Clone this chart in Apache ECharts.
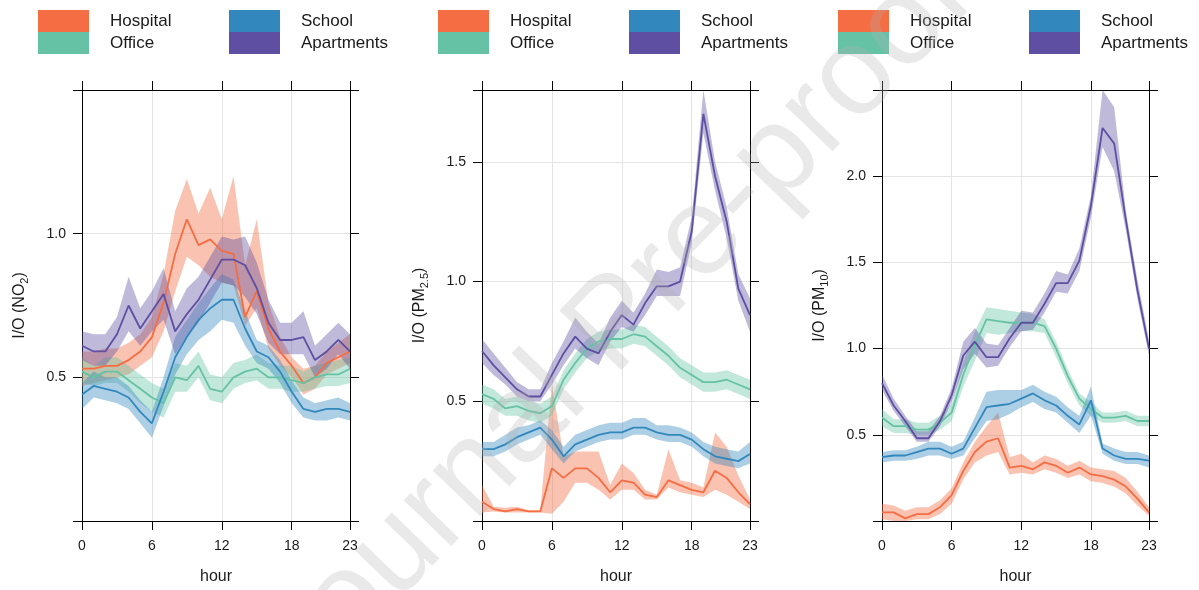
<!DOCTYPE html>
<html>
<head>
<meta charset="utf-8">
<script src="https://cdn.jsdelivr.net/npm/echarts@6/dist/echarts.min.js"></script>
<style>
  html, body { margin: 0; padding: 0; background: #fff; }
  #chart { width: 1199px; height: 590px; }
</style>
</head>
<body>
<div id="chart"></div>
<script>
// ---------- data ----------
const hours = [0,1,2,3,4,5,6,7,8,9,10,11,12,13,14,15,16,17,18,19,20,21,22,23];
const xTicks = [0, 6, 12, 18, 23];
const groups = ['Hospital', 'Office', 'School', 'Apartments'];
const panelMax = [1.5, 1.8, 2.5];

// Panel 1: I/O (NO2)
const no2Hospital   = [0.53,0.53,0.54,0.54,0.56,0.59,0.64,0.76,0.93,1.05,0.96,0.98,0.94,0.93,0.71,0.80,0.67,0.59,0.54,0.48,0.50,0.55,0.57,0.59];
const no2HospitalLo = [0.47,0.48,0.49,0.50,0.51,0.54,0.57,0.66,0.80,0.92,0.89,0.85,0.83,0.82,0.68,0.74,0.60,0.54,0.50,0.44,0.46,0.51,0.53,0.55];
const no2HospitalHi = [0.59,0.59,0.60,0.60,0.62,0.65,0.71,0.86,1.08,1.19,1.07,1.16,1.05,1.20,0.89,1.05,0.76,0.64,0.57,0.53,0.54,0.59,0.62,0.65];
const no2Office     = [0.52,0.50,0.52,0.52,0.49,0.46,0.43,0.41,0.50,0.49,0.54,0.46,0.45,0.50,0.52,0.53,0.50,0.50,0.49,0.48,0.50,0.51,0.51,0.53];
const no2OfficeLo   = [0.48,0.47,0.48,0.48,0.45,0.41,0.38,0.36,0.45,0.45,0.50,0.42,0.41,0.46,0.48,0.49,0.46,0.46,0.45,0.45,0.46,0.47,0.47,0.48];
const no2OfficeHi   = [0.57,0.54,0.57,0.57,0.54,0.51,0.48,0.46,0.55,0.54,0.59,0.51,0.50,0.55,0.56,0.58,0.55,0.54,0.54,0.52,0.54,0.55,0.56,0.57];
const no2School     = [0.44,0.47,0.46,0.45,0.43,0.38,0.34,0.45,0.57,0.64,0.70,0.74,0.77,0.77,0.67,0.59,0.57,0.52,0.45,0.39,0.38,0.39,0.39,0.38];
const no2SchoolLo   = [0.39,0.43,0.42,0.41,0.39,0.34,0.29,0.40,0.51,0.58,0.63,0.66,0.70,0.69,0.61,0.55,0.53,0.48,0.41,0.36,0.35,0.35,0.36,0.35];
const no2SchoolHi   = [0.48,0.52,0.50,0.50,0.47,0.42,0.38,0.50,0.64,0.70,0.76,0.81,0.86,0.84,0.73,0.63,0.61,0.56,0.49,0.43,0.41,0.42,0.43,0.41];
const no2Apt        = [0.61,0.59,0.59,0.65,0.75,0.67,0.73,0.79,0.66,0.72,0.77,0.84,0.91,0.91,0.89,0.81,0.69,0.63,0.63,0.64,0.56,0.59,0.63,0.59];
const no2AptLo      = [0.56,0.54,0.54,0.59,0.66,0.61,0.66,0.70,0.58,0.64,0.69,0.76,0.83,0.82,0.78,0.72,0.62,0.58,0.58,0.58,0.50,0.53,0.58,0.53];
const no2AptHi      = [0.66,0.65,0.65,0.71,0.85,0.74,0.80,0.88,0.73,0.81,0.85,0.92,0.99,0.98,0.99,0.90,0.77,0.69,0.69,0.73,0.61,0.65,0.69,0.65];

// Panel 2: I/O (PM2.5)
const pm25Hospital   = [0.08,0.05,0.04,0.05,0.04,0.04,0.22,0.18,0.22,0.22,0.18,0.12,0.17,0.16,0.11,0.10,0.17,0.15,0.13,0.12,0.21,0.18,0.12,0.07];
const pm25HospitalLo = [0.035,0.04,0.035,0.035,0.035,0.035,0.03,0.08,0.16,0.16,0.13,0.09,0.13,0.13,0.09,0.09,0.14,0.12,0.11,0.10,0.13,0.11,0.08,0.05];
const pm25HospitalHi = [0.15,0.06,0.055,0.06,0.045,0.045,0.57,0.27,0.29,0.29,0.29,0.15,0.24,0.20,0.13,0.11,0.30,0.17,0.16,0.14,0.37,0.31,0.19,0.09];
const pm25Office     = [0.53,0.51,0.47,0.48,0.46,0.45,0.48,0.59,0.66,0.72,0.75,0.76,0.76,0.78,0.77,0.73,0.69,0.64,0.61,0.58,0.58,0.59,0.57,0.55];
const pm25OfficeLo   = [0.49,0.47,0.44,0.44,0.42,0.41,0.44,0.55,0.62,0.68,0.71,0.72,0.72,0.74,0.73,0.69,0.65,0.60,0.57,0.54,0.54,0.55,0.53,0.51];
const pm25OfficeHi   = [0.57,0.55,0.51,0.52,0.50,0.49,0.52,0.63,0.70,0.76,0.79,0.80,0.80,0.82,0.81,0.77,0.73,0.68,0.65,0.62,0.62,0.63,0.61,0.59];
const pm25School     = [0.30,0.30,0.32,0.35,0.37,0.39,0.34,0.27,0.32,0.34,0.36,0.37,0.37,0.39,0.39,0.37,0.36,0.36,0.34,0.30,0.27,0.26,0.25,0.28];
const pm25SchoolLo   = [0.27,0.27,0.29,0.32,0.34,0.36,0.30,0.24,0.29,0.31,0.33,0.34,0.34,0.36,0.36,0.34,0.33,0.33,0.31,0.27,0.24,0.23,0.22,0.24];
const pm25SchoolHi   = [0.33,0.33,0.36,0.39,0.40,0.42,0.38,0.31,0.36,0.38,0.40,0.41,0.41,0.43,0.43,0.40,0.40,0.39,0.37,0.33,0.31,0.30,0.29,0.33];
const pm25Apt        = [0.71,0.65,0.60,0.55,0.52,0.52,0.61,0.70,0.77,0.72,0.70,0.79,0.86,0.82,0.91,0.98,0.98,1.00,1.21,1.70,1.44,1.25,0.97,0.86];
const pm25AptLo      = [0.66,0.61,0.57,0.52,0.50,0.50,0.57,0.65,0.72,0.68,0.65,0.75,0.81,0.79,0.86,0.94,0.94,0.94,1.16,1.62,1.38,1.18,0.92,0.79];
const pm25AptHi      = [0.76,0.70,0.64,0.58,0.55,0.55,0.66,0.75,0.85,0.79,0.74,0.85,0.92,0.87,0.95,1.05,1.04,1.06,1.27,1.80,1.50,1.31,1.03,0.93];

// Panel 3: I/O (PM10)
const pm10Hospital   = [0.05,0.05,0.015,0.04,0.04,0.08,0.15,0.29,0.40,0.46,0.48,0.31,0.32,0.30,0.34,0.32,0.28,0.31,0.27,0.26,0.24,0.20,0.13,0.05];
const pm10HospitalLo = [0.01,0.00,0.00,0.01,0.01,0.04,0.10,0.24,0.34,0.38,0.40,0.27,0.28,0.27,0.30,0.28,0.25,0.27,0.23,0.22,0.20,0.16,0.09,0.03];
const pm10HospitalHi = [0.10,0.09,0.06,0.08,0.08,0.12,0.19,0.34,0.46,0.55,0.63,0.37,0.39,0.34,0.38,0.36,0.32,0.35,0.31,0.30,0.29,0.25,0.17,0.08];
const pm10Office     = [0.60,0.55,0.55,0.53,0.53,0.57,0.63,0.85,1.02,1.17,1.16,1.15,1.15,1.15,1.13,1.00,0.84,0.71,0.65,0.60,0.60,0.61,0.58,0.58];
const pm10OfficeLo   = [0.55,0.51,0.51,0.50,0.50,0.53,0.58,0.78,0.93,1.09,1.08,1.09,1.10,1.10,1.09,0.95,0.80,0.67,0.61,0.57,0.57,0.58,0.55,0.55];
const pm10OfficeHi   = [0.65,0.59,0.59,0.57,0.57,0.61,0.68,0.92,1.10,1.24,1.23,1.22,1.21,1.20,1.17,1.04,0.88,0.74,0.69,0.63,0.63,0.64,0.61,0.61];
const pm10School     = [0.37,0.38,0.38,0.40,0.42,0.42,0.39,0.42,0.54,0.66,0.67,0.68,0.71,0.74,0.70,0.67,0.61,0.56,0.70,0.42,0.38,0.36,0.36,0.35];
const pm10SchoolLo   = [0.34,0.35,0.35,0.36,0.38,0.38,0.36,0.38,0.48,0.58,0.59,0.62,0.66,0.69,0.65,0.63,0.57,0.51,0.61,0.39,0.35,0.33,0.33,0.31];
const pm10SchoolHi   = [0.40,0.41,0.41,0.43,0.46,0.46,0.43,0.46,0.60,0.75,0.76,0.76,0.76,0.79,0.75,0.72,0.66,0.61,0.78,0.45,0.42,0.40,0.40,0.38];
const pm10Apt        = [0.80,0.67,0.58,0.48,0.48,0.58,0.73,0.96,1.04,0.95,0.95,1.06,1.15,1.15,1.26,1.38,1.38,1.51,1.83,2.28,2.19,1.75,1.34,1.00];
const pm10AptLo      = [0.76,0.64,0.55,0.46,0.46,0.55,0.69,0.88,0.97,0.89,0.90,1.01,1.10,1.11,1.21,1.33,1.32,1.45,1.76,2.17,2.03,1.69,1.29,0.96];
const pm10AptHi      = [0.85,0.71,0.61,0.52,0.52,0.61,0.77,1.04,1.12,1.03,1.02,1.12,1.22,1.21,1.32,1.45,1.43,1.58,1.89,2.50,2.40,1.80,1.40,1.05];

// ---------- styling ----------
const colors = { Hospital: '#F46D43', Office: '#66C2A5', School: '#3288BD', Apartments: '#5E4FA2' };
const bandColors = { Hospital: 'rgba(244,109,67,0.42)', Office: 'rgba(102,194,165,0.40)', School: 'rgba(50,136,189,0.40)', Apartments: 'rgba(94,79,162,0.40)' };
const FONT = '"Liberation Sans", Arial, sans-serif';
const legendTextShift = { Hospital: 3, Office: 8, School: 7, Apartments: 4 };

const panels = [
  { name: '{a|I/O (NO}{s|2}{a|)}', data: {
      Hospital: [no2Hospital, no2HospitalLo, no2HospitalHi],
      Office: [no2Office, no2OfficeLo, no2OfficeHi],
      School: [no2School, no2SchoolLo, no2SchoolHi],
      Apartments: [no2Apt, no2AptLo, no2AptHi] } },
  { name: '{a|I/O (PM}{s|2.5}{a|)}', data: {
      Hospital: [pm25Hospital, pm25HospitalLo, pm25HospitalHi],
      Office: [pm25Office, pm25OfficeLo, pm25OfficeHi],
      School: [pm25School, pm25SchoolLo, pm25SchoolHi],
      Apartments: [pm25Apt, pm25AptLo, pm25AptHi] } },
  { name: '{a|I/O (PM}{s|10}{a|)}', data: {
      Hospital: [pm10Hospital, pm10HospitalLo, pm10HospitalHi],
      Office: [pm10Office, pm10OfficeLo, pm10OfficeHi],
      School: [pm10School, pm10SchoolLo, pm10SchoolHi],
      Apartments: [pm10Apt, pm10AptLo, pm10AptHi] } }
];

const gridLefts = [82, 482, 882];
const gridWidths = [268, 268, 267];

const grids = [], xAxes = [], yAxes = [], series = [], legends = [];

panels.forEach((p, g) => {
  const M = panelMax[g];
  grids.push({ left: gridLefts[g], top: 90, width: gridWidths[g], height: 432, containLabel: false });
  const axisLine = { show: true, onZero: false, lineStyle: { color: '#000', width: 1 } };
  const tick = { show: true, inside: false, length: 9, lineStyle: { color: '#000', width: 1 } };
  xAxes.push({
    gridIndex: g, type: 'value', position: 'bottom', min: 0, max: 23, interval: 6,
    axisLine, axisTick: tick,
    axisLabel: { fontSize: 14, color: '#1a1a1a', margin: 18, fontFamily: FONT },
    splitLine: { show: true, lineStyle: { color: '#e4e4e4', width: 1 } },
    name: 'hour', nameLocation: 'middle', nameGap: 48,
    nameTextStyle: { fontSize: 16, color: '#1a1a1a', fontFamily: FONT }
  });
  xAxes.push({
    gridIndex: g, type: 'value', position: 'top', min: 0, max: 23, interval: 6,
    axisLine, axisTick: tick, axisLabel: { show: false }, splitLine: { show: false }
  });
  yAxes.push({
    gridIndex: g, type: 'value', position: 'left', min: 0, max: M, interval: 0.5,
    axisLine, axisTick: tick,
    axisLabel: { fontSize: 14, color: '#1a1a1a', margin: 16, fontFamily: FONT,
      formatter: v => (v > 0.001 && v < M - 0.001) ? v.toFixed(1) : '' },
    splitLine: { show: true, lineStyle: { color: '#e4e4e4', width: 1 } },
    name: p.name, nameLocation: 'middle', nameGap: 52,
    nameTextStyle: { color: '#1a1a1a', fontFamily: FONT,
      rich: {
        a: { fontSize: 16, lineHeight: 20, color: '#1a1a1a', fontFamily: FONT, verticalAlign: 'middle' },
        s: { fontSize: 11, color: '#1a1a1a', fontFamily: FONT, verticalAlign: 'bottom' }
      } }
  });
  yAxes.push({
    gridIndex: g, type: 'value', position: 'right', min: 0, max: M, interval: 0.5,
    axisLine, axisTick: tick, axisLabel: { show: false }, splitLine: { show: false }
  });

  groups.forEach(grp => {
    const [mean, lo, hi] = p.data[grp];
    series.push({
      type: 'custom', name: grp + ' band', xAxisIndex: 2 * g, yAxisIndex: 2 * g,
      silent: true, clip: true,
      data: hours.map((h, i) => [h, lo[i], hi[i]]),
      encode: { x: 0, y: [1, 2] },
      renderItem: (params, api) => {
        if (params.dataIndexInside !== 0) return null;
        const n = params.dataInsideLength;
        const pts = [];
        for (let i = 0; i < n; i++) pts.push(api.coord([api.value(0, i), api.value(2, i)]));
        for (let i = n - 1; i >= 0; i--) pts.push(api.coord([api.value(0, i), api.value(1, i)]));
        return { type: 'polygon', shape: { points: pts }, style: { fill: bandColors[grp], stroke: null } };
      }
    });
    series.push({
      type: 'line', name: grp, xAxisIndex: 2 * g, yAxisIndex: 2 * g,
      data: hours.map((h, i) => [h, mean[i]]),
      showSymbol: false, symbol: 'none', silent: true,
      lineStyle: { color: colors[grp], width: 1.8 },
      itemStyle: { color: colors[grp] }
    });
  });

  const lx = [38 + 400 * g, 229 + 400 * g];
  [['Hospital', 'Office'], ['School', 'Apartments']].forEach((pair, k) => {
    legends.push({
      left: lx[k], top: 10, orient: 'vertical', padding: 0,
      itemWidth: 51, itemHeight: 22, itemGap: 0, icon: 'rect',
      selectedMode: false,
      data: pair.map(nm => ({ name: nm, icon: 'rect', itemStyle: { color: colors[nm] },
        textStyle: { fontSize: 17, color: '#1a1a1a', fontFamily: FONT, lineHeight: 14,
          padding: [legendTextShift[nm], 0, 0, 16] } })),
      textStyle: { fontSize: 17, color: '#1a1a1a', fontFamily: FONT, lineHeight: 14, padding: [0, 0, 0, 16] }
    });
  });
});

const chart = echarts.init(document.getElementById('chart'), null, { renderer: 'canvas' });
chart.setOption({
  animation: false,
  backgroundColor: '#ffffff',
  textStyle: { fontFamily: FONT },
  grid: grids, xAxis: xAxes, yAxis: yAxes, series: series, legend: legends,
  graphic: [{
    type: 'text', x: 616, y: 326, rotation: 46 * Math.PI / 180, z: 100, silent: true,
    style: { text: 'Journal Pre-proof', font: '125px "Liberation Sans", Arial, sans-serif',
      fill: 'rgba(175,175,175,0.28)', align: 'center', verticalAlign: 'middle' }
  }]
});
</script>
</body>
</html>
